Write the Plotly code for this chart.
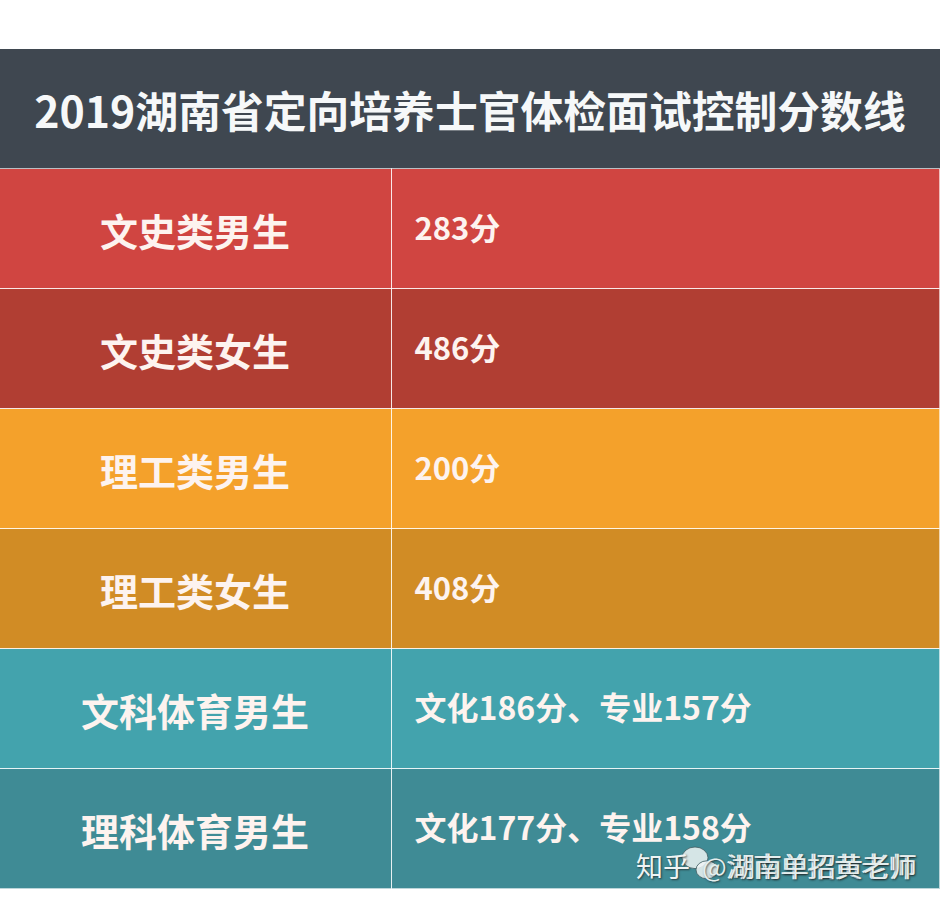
import plotly.graph_objects as go

FONT = "Noto Sans CJK SC"

title = "2019湖南省定向培养士官体检面试控制分数线"
groups = ["文史类男生", "文史类女生", "理工类男生", "理工类女生", "文科体育男生", "理科体育男生"]
scores = ["283分", "486分", "200分", "408分", "文化186分、专业157分", "文化177分、专业158分"]
score_sizes = [31, 31, 31, 31, 32, 32]
row_colors = ["#d04541", "#b13e33", "#f4a12b", "#d18c25", "#43a3ad", "#3f8b95"]
title_color = "#3f4750"
col_left = 391.5
col_right = 548.5
rows = list(range(1, len(groups) + 1))
line = dict(color="rgba(255,255,255,0.65)", width=1)

fig = go.Figure()

# title band
fig.add_trace(go.Bar(y=[0], x=[col_left + col_right], orientation="h", width=1,
                     marker=dict(color=title_color, line=dict(width=0)), hoverinfo="skip"))
# table rows, two stacked cells each
fig.add_trace(go.Bar(y=rows, x=[col_left] * len(rows), orientation="h", width=1,
                     marker=dict(color=row_colors, line=line), hoverinfo="skip"))
fig.add_trace(go.Bar(y=rows, x=[col_right] * len(rows), orientation="h", width=1,
                     marker=dict(color=row_colors, line=line), hoverinfo="skip"))

fig.add_trace(go.Scatter(x=[470], y=[0.07], mode="text", text=["<b>" + title + "</b>"],
                         textfont=dict(family=FONT, size=42.8, color="#f6f8f9"),
                         textposition="middle center", hoverinfo="skip"))
fig.add_trace(go.Scatter(x=[195] * len(rows), y=[r + 0.065 for r in rows], mode="text",
                         text=["<b>" + g + "</b>" for g in groups],
                         textfont=dict(family=FONT, size=38, color="#fdf3ef"),
                         textposition="middle center", hoverinfo="skip"))
fig.add_trace(go.Scatter(x=[414.5] * len(rows), y=[r + 0.025 for r in rows], mode="text",
                         text=["<b>" + s + "</b>" for s in scores],
                         textfont=dict(family=FONT, size=score_sizes, color="#fdf3ef"),
                         textposition="middle right", hoverinfo="skip"))

fig.update_layout(
    width=940, height=905,
    margin=dict(l=0, r=0, t=49, b=16),
    barmode="stack", bargap=0, showlegend=False,
    paper_bgcolor="white", plot_bgcolor="white",
    xaxis=dict(range=[0, col_left + col_right], visible=False, fixedrange=True),
    # 120 px per row
    yaxis=dict(range=[len(rows) + 0.5, -0.5], visible=False, fixedrange=True),
)

# watermark: wechat bubbles, then the doubled account name
for cx, cy, rx, ry in [(695, 6.24, 13, 0.09), (707, 6.34, 11, 0.075)]:
    fig.add_shape(type="circle", x0=cx - rx, x1=cx + rx, y0=cy - ry, y1=cy + ry, xref="x", yref="y",
                  fillcolor="rgba(240,245,245,0.85)", line=dict(color="rgba(60,90,95,0.8)", width=1))
wm_shadow = "1px 1px 2px rgba(30,30,30,0.7)"
fig.add_annotation(x=634, y=6.3, xref="x", yref="y", xanchor="left", yanchor="middle", showarrow=False,
                   text="知乎", font=dict(family=FONT, size=27, color="#eef4f4", shadow=wm_shadow))
fig.add_annotation(x=700, y=6.3, xref="x", yref="y", xanchor="left", yanchor="middle", showarrow=False,
                   text="@", font=dict(family=FONT, size=26, color="#e4eeee", shadow=wm_shadow))
for dx in (0, 2):
    fig.add_annotation(x=724 + dx, y=6.3, xref="x", yref="y", xanchor="left", yanchor="middle", showarrow=False,
                       text="湖南单招黄老师",
                       font=dict(family=FONT, size=27, color="#e4eeee", shadow=wm_shadow))

fig.write_html("out.html", config=dict(displayModeBar=False),
               post_script="document.body.style.margin='0';")
